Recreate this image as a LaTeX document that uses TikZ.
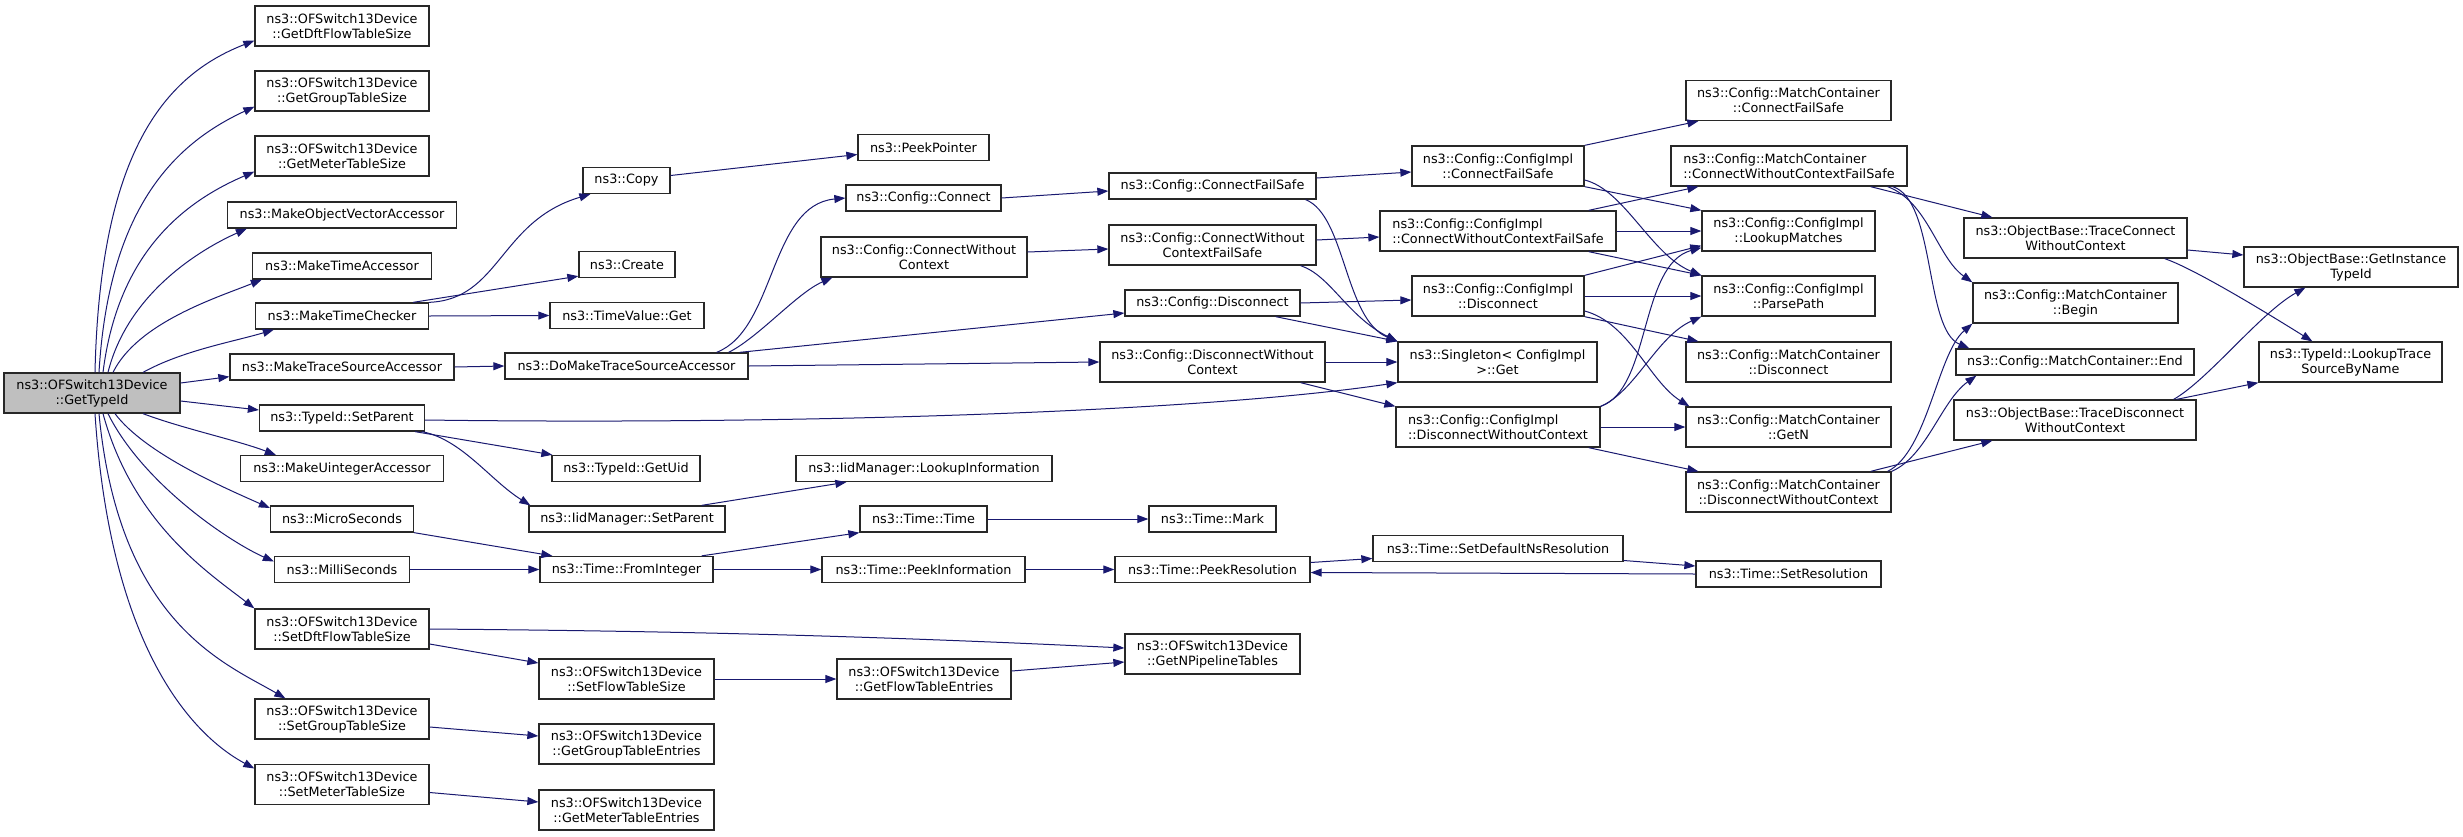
\documentclass[tikz,border=0pt]{standalone}
\usepackage{fontspec}
\setmainfont{DejaVu Sans}
\usepackage{tikz}
\usetikzlibrary{arrows.meta}
\definecolor{callblue}{RGB}{25,25,112}
\definecolor{boxline}{RGB}{40,40,40}
\definecolor{rootgray}{RGB}{191,191,191}
\tikzset{
  fn/.style={draw=boxline, line width=1.3pt, fill=white, inner sep=0pt, align=center, font=\fontsize{12.8}{15}\selectfont},
  fnone/.style={fn, minimum height=26pt},
  fntwo/.style={fn, minimum height=40pt},
  call/.style={->, draw=callblue, line width=1pt}
}

\begin{document}
\begin{tikzpicture}[x=1pt, y=-1pt, >={Triangle[length=11pt, width=8pt]}]
        \fill[white] (0,0) rectangle (2463,836);
        \useasboundingbox (0,0) rectangle (2463,836);

        \node[fntwo, fill=rootgray, minimum width=176pt] (root) at (92,393) {ns3::OFSwitch13Device\\::GetTypeId};

        \node[fntwo, minimum width=174pt] (gdft) at (342,26) {ns3::OFSwitch13Device\\::GetDftFlowTableSize};
        \node[fntwo, minimum width=174pt] (ggrp) at (342,91) {ns3::OFSwitch13Device\\::GetGroupTableSize};
        \node[fntwo, minimum width=174pt] (gmet) at (342,156) {ns3::OFSwitch13Device\\::GetMeterTableSize};
        \node[fnone, minimum width=229pt] (mova) at (342,215) {ns3::MakeObjectVectorAccessor};
        \node[fnone, minimum width=179pt] (mta) at (342,266) {ns3::MakeTimeAccessor};
        \node[fnone, minimum width=173pt] (mtc) at (342,316) {ns3::MakeTimeChecker};
        \node[fnone, minimum width=224pt] (mtsa) at (342,367) {ns3::MakeTraceSourceAccessor};
        \node[fnone, minimum width=165pt] (setparent) at (342,418) {ns3::TypeId::SetParent};
        \node[fnone, minimum width=203pt] (muia) at (342,468.5) {ns3::MakeUintegerAccessor};
        \node[fnone, minimum width=143pt] (micro) at (342,519) {ns3::MicroSeconds};
        \node[fnone, minimum width=135pt] (milli) at (342,569.5) {ns3::MilliSeconds};
        \node[fntwo, minimum width=174pt] (sdft) at (342,629) {ns3::OFSwitch13Device\\::SetDftFlowTableSize};
        \node[fntwo, minimum width=174pt] (sgrp) at (342,719) {ns3::OFSwitch13Device\\::SetGroupTableSize};
        \node[fntwo, minimum width=174pt] (smet) at (342,784.5) {ns3::OFSwitch13Device\\::SetMeterTableSize};

        \node[fnone, minimum width=87pt] (copy) at (626.5,180.5) {ns3::Copy};
        \node[fnone, minimum width=96pt] (create) at (627,264.5) {ns3::Create};
        \node[fnone, minimum width=154pt] (tvget) at (627,315.5) {ns3::TimeValue::Get};
        \node[fnone, minimum width=243pt] (domake) at (626.5,366) {ns3::DoMakeTraceSourceAccessor};
        \node[fnone, minimum width=148pt] (getuid) at (626,468.5) {ns3::TypeId::GetUid};
        \node[fnone, minimum width=196pt] (iidsetparent) at (627,519) {ns3::IidManager::SetParent};
        \node[fnone, minimum width=173pt] (fromint) at (626.5,569.5) {ns3::Time::FromInteger};
        \node[fntwo, minimum width=175pt] (sfts) at (626.5,679) {ns3::OFSwitch13Device\\::SetFlowTableSize};
        \node[fntwo, minimum width=175pt] (ggte) at (626.5,744) {ns3::OFSwitch13Device\\::GetGroupTableEntries};
        \node[fntwo, minimum width=175pt] (gmte) at (626.5,810) {ns3::OFSwitch13Device\\::GetMeterTableEntries};

        \node[fnone, minimum width=131pt] (peek) at (923.5,147.5) {ns3::PeekPointer};
        \node[fnone, minimum width=155pt] (cconnect) at (923.5,198) {ns3::Config::Connect};
        \node[fntwo, minimum width=206pt] (ccwc) at (924,257) {ns3::Config::ConnectWithout\\Context};
        \node[fnone, minimum width=256pt] (lookupinfo) at (924,468.5) {ns3::IidManager::LookupInformation};
        \node[fnone, minimum width=127pt] (ttime) at (923.5,519) {ns3::Time::Time};
        \node[fnone, minimum width=203pt] (tpinfo) at (923.5,569.5) {ns3::Time::PeekInformation};
        \node[fntwo, minimum width=174pt] (gfte) at (924,679) {ns3::OFSwitch13Device\\::GetFlowTableEntries};

        \node[fnone, minimum width=207pt] (ccfs) at (1212.5,186) {ns3::Config::ConnectFailSafe};
        \node[fntwo, minimum width=207pt] (ccwcfs) at (1212.5,245) {ns3::Config::ConnectWithout\\ContextFailSafe};
        \node[fnone, minimum width=175pt] (cdisc) at (1212.5,303) {ns3::Config::Disconnect};
        \node[fntwo, minimum width=225pt] (cdwc) at (1212.5,362) {ns3::Config::DisconnectWithout\\Context};
        \node[fnone, minimum width=127pt] (tmark) at (1212.5,519) {ns3::Time::Mark};
        \node[fnone, minimum width=195pt] (tpres) at (1212.5,569.5) {ns3::Time::PeekResolution};
        \node[fntwo, minimum width=175pt] (gnpt) at (1212.5,654) {ns3::OFSwitch13Device\\::GetNPipelineTables};

        \node[fntwo, minimum width=172pt] (ciconnfs) at (1498,166) {ns3::Config::ConfigImpl\\::ConnectFailSafe};
        \node[fntwo, minimum width=236pt, align=left] (cicwcfs) at (1498,231) {ns3::Config::ConfigImpl\\::ConnectWithoutContextFailSafe};
        \node[fntwo, minimum width=172pt] (cidisc) at (1498,296) {ns3::Config::ConfigImpl\\::Disconnect};
        \node[fntwo, minimum width=199pt] (singleton) at (1497.5,362) {ns3::Singleton< ConfigImpl\\>::Get};
        \node[fntwo, minimum width=204pt, align=left] (cidwc) at (1498,427) {ns3::Config::ConfigImpl\\::DisconnectWithoutContext};
        \node[fnone, minimum width=250pt] (tsdnr) at (1498,548.5) {ns3::Time::SetDefaultNsResolution};

        \node[fntwo, minimum width=205pt] (mccfs) at (1788.5,100.5) {ns3::Config::MatchContainer\\::ConnectFailSafe};
        \node[fntwo, minimum width=236pt, align=left] (mccwcfs) at (1789,166) {ns3::Config::MatchContainer\\::ConnectWithoutContextFailSafe};
        \node[fntwo, minimum width=173pt] (cilm) at (1788.5,231) {ns3::Config::ConfigImpl\\::LookupMatches};
        \node[fntwo, minimum width=173pt] (cipp) at (1788.5,296) {ns3::Config::ConfigImpl\\::ParsePath};
        \node[fntwo, minimum width=205pt] (mcdisc) at (1788.5,362) {ns3::Config::MatchContainer\\::Disconnect};
        \node[fntwo, minimum width=205pt] (mcgetn) at (1788.5,427) {ns3::Config::MatchContainer\\::GetN};
        \node[fntwo, minimum width=205pt] (mcdwc) at (1788.5,492) {ns3::Config::MatchContainer\\::DisconnectWithoutContext};
        \node[fnone, minimum width=185pt] (tsetres) at (1788.5,574) {ns3::Time::SetResolution};

        \node[fntwo, minimum width=223pt] (obtcwc) at (2075.5,238) {ns3::ObjectBase::TraceConnect\\WithoutContext};
        \node[fntwo, minimum width=205pt] (mcbegin) at (2075.5,303) {ns3::Config::MatchContainer\\::Begin};
        \node[fnone, minimum width=238pt] (mcend) at (2075,362) {ns3::Config::MatchContainer::End};
        \node[fntwo, minimum width=242pt] (obtdwc) at (2075,420) {ns3::ObjectBase::TraceDisconnect\\WithoutContext};

        \node[fntwo, minimum width=214pt] (obgit) at (2351,267) {ns3::ObjectBase::GetInstance\\TypeId};
        \node[fntwo, minimum width=183pt] (tilts) at (2350.5,362) {ns3::TypeId::LookupTrace\\SourceByName};

        \draw[call] ([xshift=3pt]root.north) .. controls +(5,-220) and +(-90,35) .. ([shift={(0,-6)}]gdft.south west);
        \draw[call] ([xshift=7pt]root.north) .. controls +(10,-170) and +(-75,35) .. ([shift={(0,-5)}]ggrp.south west);
        \draw[call] ([xshift=11pt]root.north) .. controls +(15,-120) and +(-70,30) .. ([shift={(0,-5)}]gmet.south west);
        \draw[call] ([xshift=16pt]root.north) .. controls +(20,-80) and +(-45,20) .. ([xshift=20pt]mova.south west);
        \draw[call] ([xshift=21pt]root.north) .. controls +(25,-50) and +(-45,18) .. ([xshift=10pt]mta.south west);
        \draw[call] ([xshift=51pt]root.north) .. controls +(40,-22) and +(-40,12) .. ([xshift=19pt]mtc.south west);
        \draw[call] ([shift={(0,-10)}]root.east) -- ([shift={(0,-4)}]mtsa.south west);
        \draw[call] ([shift={(0,8)}]root.east) -- ([shift={(0,-8)}]setparent.west);
        \draw[call] ([xshift=51pt]root.south) .. controls +(40,15) and +(-40,-15) .. ([xshift=36pt]muia.north west);
        \draw[call] ([xshift=23pt]root.south) .. controls +(30,40) and +(-45,-20) .. ([shift={(0,-11)}]micro.west);
        \draw[call] ([xshift=16pt]root.south) .. controls +(35,70) and +(-45,-20) .. ([shift={(0,-8)}]milli.west);
        \draw[call] ([xshift=11pt]root.south) .. controls +(30,110) and +(-45,-35) .. (sdft.north west);
        \draw[call] ([xshift=7pt]root.south) .. controls +(20,210) and +(-60,-35) .. ([xshift=31pt]sgrp.north west);
        \draw[call] ([xshift=3pt]root.south) .. controls +(15,230) and +(-65,-35) .. ([shift={(0,-16)}]smet.west);

        \draw[call] (mtc.north east) .. controls +(71,-3) and +(-91,27) .. ([xshift=8pt]copy.south west);
        \draw[call] ([xshift=-16pt]mtc.north east) -- ([shift={(0,-2)}]create.south west);
        \draw[call] (mtc.east) -- (tvget.west);
        \draw[call] ([shift={(0,-5)}]copy.east) -- ([shift={(0,7)}]peek.west);
        \draw[call] (mtsa.east) -- (domake.west);

        \draw[call] ([xshift=-32pt]domake.north east) .. controls +(59,-23) and +(-76,7) .. (cconnect.west);
        \draw[call] ([xshift=-20pt]domake.north east) .. controls +(30,-15) and +(-35,15) .. ([xshift=12pt]ccwc.south west);
        \draw[call] ([xshift=-9pt]domake.north east) -- ([shift={(0,10)}]cdisc.west);
        \draw[call] (domake.east) -- (cdwc.west);

        \draw[call] (cconnect.east) -- ([shift={(0,5)}]ccfs.west);
        \draw[call] ([shift={(0,-5)}]ccwc.east) -- ([shift={(0,4)}]ccwcfs.west);
        \draw[call] ([shift={(0,-8)}]ccfs.east) -- ([shift={(0,6)}]ciconnfs.west);
        \draw[call] ([xshift=-11pt]ccfs.south east) .. controls +(40,16) and +(-53,-22) .. (singleton.north west);
        \draw[call] ([xshift=-16pt]ccwcfs.south east) .. controls +(30,10) and +(-50,-25) .. (singleton.north west);
        \draw[call] ([shift={(0,-5)}]ccwcfs.east) -- ([shift={(0,6)}]cicwcfs.west);
        \draw[call] (cdisc.east) -- ([shift={(0,4)}]cidisc.west);
        \draw[call] ([xshift=-25pt]cdisc.south east) -- (singleton.north west);
        \draw[call] (cdwc.east) -- (singleton.west);
        \draw[call] ([xshift=-25pt]cdwc.south east) -- (cidwc.north west);

        \draw[call] ([shift={(0,2)}]setparent.east) .. controls (800,425) and (1200,412) .. (singleton.south west);
        \draw[call] ([xshift=-10pt]setparent.south east) -- ([xshift=1pt]getuid.north west);
        \draw[call] ([xshift=-3pt]setparent.south east) .. controls +(40,8) and +(-40,-25) .. ([xshift=2pt]iidsetparent.north west);
        \draw[call] ([xshift=-24pt]iidsetparent.north east) -- ([xshift=51pt]lookupinfo.south west);

        \draw[call] (micro.south east) -- ([xshift=13pt]fromint.north west);
        \draw[call] (milli.east) -- (fromint.west);
        \draw[call] ([xshift=-12pt]fromint.north east) -- (ttime.south west);
        \draw[call] (fromint.east) -- (tpinfo.west);
        \draw[call] (tpinfo.east) -- (tpres.west);
        \draw[call] (ttime.east) -- (tmark.west);
        \draw[call] ([shift={(0,-7)}]tpres.east) -- ([shift={(0,10)}]tsdnr.west);
        \draw[call] ([shift={(0,12)}]tsdnr.east) -- ([shift={(0,-8)}]tsetres.west);
        \draw[call] (tsetres.west) -- ([shift={(0,3)}]tpres.east);

        \draw[call] (sdft.east) .. controls +(250,2) and +(-250,-12) .. ([shift={(0,-6)}]gnpt.west);
        \draw[call] ([shift={(0,15)}]sdft.east) -- ([shift={(0,-16)}]sfts.west);
        \draw[call] (sfts.east) -- (gfte.west);
        \draw[call] ([shift={(0,-8)}]gfte.east) -- ([shift={(0,8)}]gnpt.west);
        \draw[call] ([shift={(0,8)}]sgrp.east) -- ([shift={(0,-8)}]ggte.west);
        \draw[call] ([shift={(0,8)}]smet.east) -- ([shift={(0,-8)}]gmte.west);

        \draw[call] (ciconnfs.north east) -- ([xshift=13pt]mccfs.south west);
        \draw[call] (ciconnfs.south east) -- (cilm.north west);
        \draw[call] ([shift={(0,14)}]ciconnfs.east) .. controls +(40,10) and +(-50,-20) .. (cipp.north west);
        \draw[call] ([xshift=-28pt]cicwcfs.north east) -- ([xshift=28pt]mccwcfs.south west);
        \draw[call] (cicwcfs.east) -- (cilm.west);
        \draw[call] ([xshift=-28pt]cicwcfs.south east) -- (cipp.north west);
        \draw[call] (cidisc.north east) -- ([shift={(0,-6)}]cilm.south west);
        \draw[call] (cidisc.east) -- (cipp.west);
        \draw[call] (cidisc.south east) -- ([xshift=13pt]mcdisc.north west);
        \draw[call] ([shift={(0,15)}]cidisc.east) .. controls +(45,12) and +(-40,-25) .. ([xshift=4pt]mcgetn.north west);
        \draw[call] (cidwc.north east) .. controls +(50,-17) and +(-62,17) .. ([shift={(0,-4)}]cilm.south west);
        \draw[call] (cidwc.north east) .. controls +(35,-15) and +(-45,20) .. (cipp.south west);
        \draw[call] (cidwc.east) -- (mcgetn.west);
        \draw[call] ([xshift=-12pt]cidwc.south east) -- ([xshift=13pt]mcdwc.north west);

        \draw[call] ([xshift=-37pt]mccwcfs.south east) -- ([xshift=29pt]obtcwc.north west);
        \draw[call] ([xshift=-20pt]mccwcfs.south east) .. controls +(40,15) and +(-35,-25) .. (mcbegin.north west);
        \draw[call] ([xshift=-15pt]mccwcfs.south east) .. controls +(43,13) and +(-45,-19) .. ([xshift=14pt]mcend.north west);
        \draw[call] ([xshift=-21pt]mcdwc.north east) -- ([xshift=39pt]obtdwc.south west);
        \draw[call] ([xshift=-4pt]mcdwc.north east) .. controls +(40,-20) and +(-35,30) .. (mcbegin.south west);
        \draw[call] (mcdwc.north east) .. controls +(35,-15) and +(-35,25) .. ([xshift=21pt]mcend.south west);

        \draw[call] ([shift={(0,12)}]obtcwc.east) -- ([shift={(0,-12)}]obgit.west);
        \draw[call] ([xshift=-23pt]obtcwc.south east) .. controls +(30,10) and +(-40,-25) .. ([xshift=54pt]tilts.north west);
        \draw[call] ([xshift=-23pt]obtdwc.north east) .. controls +(35,-20) and +(-45,25) .. ([xshift=62pt]obgit.south west);
        \draw[call] ([xshift=-20pt]obtdwc.north east) -- (tilts.south west);
    \end{tikzpicture}
\end{document}
